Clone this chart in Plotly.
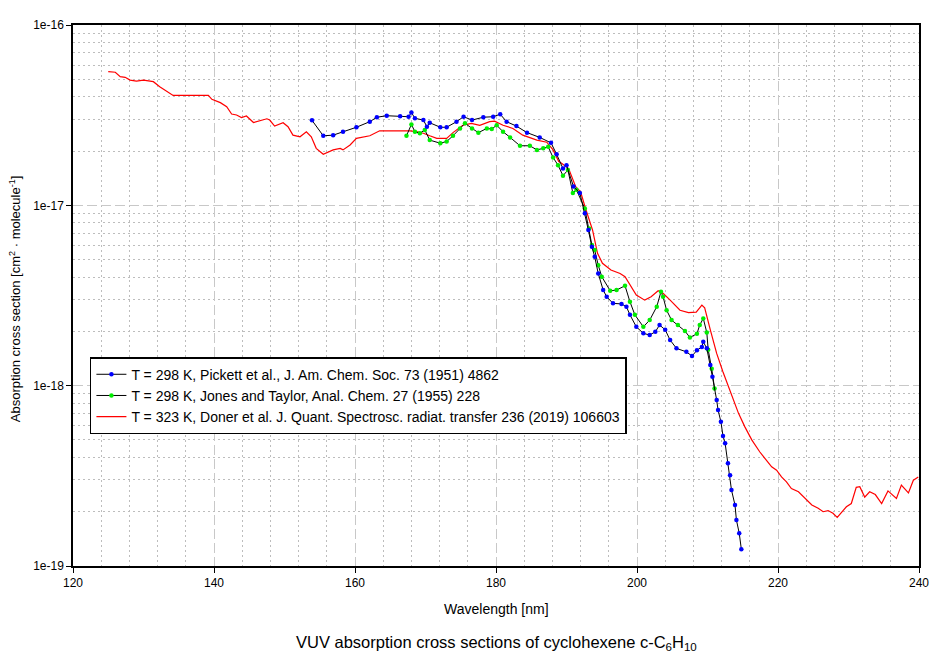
import plotly.graph_objects as go

################################## DATA ##################################
# T = 298 K, Pickett et al. (1951)
wl_pickett = [153.9, 155.5, 156.9, 158.3, 160.2, 162.1, 163.1, 164.5, 166.4, 167.6,
              168.0, 168.5, 169.7, 170.2, 170.6, 172.1, 173.0, 174.4, 175.4, 176.6,
              178.2, 179.6, 180.6, 181.5, 182.9, 184.4, 186.2, 187.8, 188.6, 189.5,
              190.0, 191.0, 191.9, 192.6, 193.1, 193.6, 194.0, 194.5, 195.2, 195.7,
              196.6, 197.8, 198.5, 199.0, 199.9, 200.9, 201.8, 202.6, 203.2, 204.0,
              204.7, 205.6, 207.0, 207.8, 208.5, 209.2, 209.4, 209.9, 210.4, 210.7,
              211.3, 211.5, 211.9, 212.2, 212.5, 212.9, 213.2, 213.4, 213.9, 214.1,
              214.5, 214.8]
xs_pickett = [2.96e-17, 2.43e-17, 2.45e-17, 2.56e-17, 2.71e-17, 2.91e-17, 3.08e-17, 3.14e-17, 3.12e-17, 3.10e-17,
              3.27e-17, 3.04e-17, 2.97e-17, 2.73e-17, 2.87e-17, 2.71e-17, 2.71e-17, 2.91e-17, 3.10e-17, 2.97e-17,
              3.08e-17, 3.10e-17, 3.20e-17, 2.91e-17, 2.75e-17, 2.53e-17, 2.38e-17, 2.22e-17, 1.92e-17, 1.60e-17,
              1.67e-17, 1.27e-17, 1.17e-17, 9.03e-18, 7.29e-18, 5.89e-18, 5.19e-18, 4.19e-18, 3.39e-18, 3.11e-18,
              2.86e-18, 2.84e-18, 2.74e-18, 2.47e-18, 2.12e-18, 1.95e-18, 1.91e-18, 1.99e-18, 2.17e-18, 2.04e-18,
              1.79e-18, 1.61e-18, 1.54e-18, 1.46e-18, 1.57e-18, 1.64e-18, 1.75e-18, 1.61e-18, 1.30e-18, 1.12e-18,
              8.32e-19, 7.32e-19, 6.31e-19, 5.26e-19, 4.79e-19, 3.71e-19, 3.19e-19, 2.64e-19, 2.18e-19, 1.80e-19,
              1.52e-19, 1.24e-19]

# T = 298 K, Jones and Taylor (1955)
wl_jones = [167.3, 168.0, 168.5, 169.2, 169.9, 170.6, 172.1, 173.0, 173.9, 174.9,
            175.6, 176.6, 177.5, 178.7, 179.4, 180.1, 181.0, 182.0, 183.4, 184.8,
            185.8, 186.7, 187.4, 188.1, 188.8, 189.5, 190.2, 190.9, 191.4, 192.6,
            193.2, 193.6, 194.0, 194.5, 195.0, 196.2, 197.1, 198.3, 199.0, 199.7,
            200.9, 201.8, 202.8, 203.4, 203.7, 204.2, 204.9, 205.8, 206.8, 207.5,
            208.5, 208.9, 209.4, 209.9, 210.1, 210.6, 211.0]
xs_jones = [2.43e-17, 2.81e-17, 2.56e-17, 2.51e-17, 2.62e-17, 2.30e-17, 2.21e-17, 2.26e-17, 2.43e-17, 2.67e-17,
            2.85e-17, 2.67e-17, 2.53e-17, 2.67e-17, 2.65e-17, 2.78e-17, 2.56e-17, 2.38e-17, 2.14e-17, 2.14e-17,
            2.03e-17, 2.07e-17, 2.11e-17, 1.84e-17, 1.67e-17, 1.46e-17, 1.57e-17, 1.17e-17, 1.22e-17, 9.6e-18,
            7.45e-18, 6.02e-18, 5.65e-18, 4.66e-18, 4.02e-18, 3.36e-18, 3.39e-18, 3.58e-18, 2.92e-18, 2.47e-18,
            2.12e-18, 2.31e-18, 2.74e-18, 3.32e-18, 3.11e-18, 2.62e-18, 2.31e-18, 2.17e-18, 2.01e-18, 1.85e-18,
            1.94e-18, 2.17e-18, 2.36e-18, 1.97e-18, 1.58e-18, 1.24e-18, 9.66e-19]

# T = 323 K, Doner et al. (2019)
wl_doner = [125.0, 126.0, 126.7, 127.4, 128.1, 129.0, 130.0, 131.4, 132.3, 133.8,
            134.2, 139.2, 139.7, 140.9, 141.8, 142.5, 143.2, 143.9, 144.6, 145.6,
            146.5, 147.5, 147.9, 148.6, 149.8, 150.5, 151.2, 152.2, 153.1, 153.8,
            154.5, 155.5, 156.9, 157.9, 158.3, 159.3, 160.2, 162.1, 163.5, 167.8,
            168.7, 169.7, 170.6, 171.6, 173.0, 173.9, 175.3, 176.5, 177.7, 179.1,
            179.8, 181.0, 182.4, 183.8, 185.8, 187.2, 188.1, 188.9, 189.3, 190.3,
            191.3, 192.0, 192.7, 193.7, 194.4, 195.1, 196.3, 197.6, 198.3, 199.0,
            199.9, 201.1, 202.0, 203.0, 203.7, 204.7, 206.1, 207.3, 208.4, 209.2,
            209.6, 210.4, 211.3, 212.2, 213.2, 214.4, 215.3, 216.3, 217.4, 218.4,
            219.1, 219.8, 220.5, 221.2, 221.9, 222.9, 223.8, 224.8, 225.7, 226.4,
            227.1, 227.8, 228.4, 229.0, 229.7, 230.4, 231.1, 231.6, 232.3, 233.0,
            233.8, 234.7, 235.6, 236.8, 237.5, 238.5, 239.2, 239.9]
xs_doner = [5.51e-17, 5.47e-17, 5.17e-17, 5.13e-17, 4.95e-17, 4.89e-17, 4.95e-17, 4.85e-17, 4.55e-17, 4.14e-17,
            4.07e-17, 4.07e-17, 3.87e-17, 3.71e-17, 3.52e-17, 3.21e-17, 3.17e-17, 3.07e-17, 3.13e-17, 2.88e-17,
            2.94e-17, 3.02e-17, 2.97e-17, 2.75e-17, 2.87e-17, 2.73e-17, 2.45e-17, 2.40e-17, 2.56e-17, 2.40e-17,
            2.07e-17, 1.92e-17, 2.03e-17, 2.07e-17, 2.03e-17, 2.16e-17, 2.35e-17, 2.43e-17, 2.59e-17, 2.59e-17,
            2.56e-17, 2.51e-17, 2.43e-17, 2.35e-17, 2.35e-17, 2.53e-17, 2.78e-17, 2.85e-17, 2.78e-17, 2.91e-17,
            2.93e-17, 2.78e-17, 2.67e-17, 2.45e-17, 2.30e-17, 2.24e-17, 2.03e-17, 1.75e-17, 1.71e-17, 1.60e-17,
            1.27e-17, 1.19e-17, 9.6e-18, 7.29e-18, 5.42e-18, 4.77e-18, 4.38e-18, 4.19e-18, 4.02e-18, 3.61e-18,
            3.18e-18, 2.98e-18, 3.11e-18, 3.36e-18, 3.25e-18, 2.98e-18, 2.62e-18, 2.54e-18, 2.56e-18, 2.80e-18,
            2.70e-18, 2.04e-18, 1.51e-18, 1.19e-18, 9.25e-19, 7.02e-19, 5.91e-19, 4.99e-19, 4.30e-19, 3.86e-19,
            3.55e-19, 3.40e-19, 3.12e-19, 2.93e-19, 2.69e-19, 2.58e-19, 2.37e-19, 2.18e-19, 2.09e-19, 2.00e-19,
            2.03e-19, 1.96e-19, 1.86e-19, 1.98e-19, 2.13e-19, 2.22e-19, 2.73e-19, 2.75e-19, 2.41e-19, 2.58e-19,
            2.49e-19, 2.22e-19, 2.61e-19, 2.37e-19, 2.81e-19, 2.54e-19, 2.99e-19, 3.12e-19]

labels = ['T = 298 K, Pickett et al., J. Am. Chem. Soc. 73 (1951) 4862',
          'T = 298 K, Jones and Taylor, Anal. Chem. 27 (1955) 228',
          'T = 323 K, Doner et al. J. Quant. Spectrosc. radiat. transfer 236 (2019) 106603']

y_major = [1e-19, 1e-18, 1e-17, 1e-16]
y_major_text = ['1e-19', '1e-18', '1e-17', '1e-16']
y_minor = [m * d for d in [1e-19, 1e-18, 1e-17] for m in range(2, 10)]

################################# FIGURE #################################
font = 'Liberation Sans, Arial, sans-serif'
fig = go.Figure()

fig.add_trace(go.Scatter(x=wl_doner, y=xs_doner, mode='lines', name=labels[2],
                         line=dict(color='#ff0000', width=1.2), legendrank=3))
fig.add_trace(go.Scatter(x=wl_jones, y=xs_jones, mode='lines+markers', name=labels[1],
                         line=dict(color='black', width=1),
                         marker=dict(color='#00ee00', size=4.5), legendrank=2))
fig.add_trace(go.Scatter(x=wl_pickett, y=xs_pickett, mode='lines+markers', name=labels[0],
                         line=dict(color='black', width=1),
                         marker=dict(color='#0000ff', size=4.5), legendrank=1))

axis_common = dict(showline=True, linecolor='black', linewidth=1.5, mirror=True,
                   ticks='outside', ticklen=5, tickcolor='black',
                   showgrid=True, gridcolor='#c8c8c8', gridwidth=1, griddash='10px,4px',
                   zeroline=False, tickfont=dict(family=font, size=12, color='black'))

fig.update_xaxes(range=[120, 240], tick0=120, dtick=20,
                 minor=dict(dtick=4, showgrid=True, gridcolor='#bdbdbd', griddash='2px,3px',
                            ticks=''),
                 **axis_common)
fig.update_yaxes(type='log', range=[-19, -16], tickmode='array',
                 tickvals=y_major, ticktext=y_major_text,
                 minor=dict(tickmode='array', tickvals=y_minor, showgrid=True,
                            gridcolor='#bdbdbd', griddash='2px,3px', ticks=''),
                 **axis_common)

# axis titles and chart title (placed to match the reference positions)
fig.add_annotation(text='Wavelength [nm]', xref='paper', yref='paper', x=0.5, y=-0.0795,
                   xanchor='center', yanchor='middle', showarrow=False,
                   font=dict(family=font, size=14, color='black'))
fig.add_annotation(text='Absorption cross section [cm<sup>2</sup> · molecule<sup>-1</sup>]',
                   xref='paper', yref='paper', x=-0.0686, y=0.495, textangle=-90,
                   xanchor='center', yanchor='middle', showarrow=False,
                   font=dict(family=font, size=13, color='black'))
fig.add_annotation(text='VUV absorption cross sections of cyclohexene c-C<sub>6</sub>H<sub>10</sub>',
                   xref='paper', yref='paper', x=0.5, y=-0.142,
                   xanchor='center', yanchor='middle', showarrow=False,
                   font=dict(family=font, size=16.5, color='black'))

fig.update_layout(width=944, height=659,
                  margin=dict(l=73, r=25, t=25, b=93),
                  paper_bgcolor='white', plot_bgcolor='white',
                  font=dict(family=font, size=12, color='black'),
                  showlegend=True,
                  legend=dict(x=0.02, y=0.386, xanchor='left', yanchor='top',
                              bgcolor='white', bordercolor='black', borderwidth=1.5,
                              font=dict(family=font, size=14, color='black'),
                              tracegroupgap=0, itemwidth=30))

# drop the default 8px page margin so the figure sits at the window's corner
fig.write_html('out.html', config={'displayModeBar': False},
               post_script="document.body.style.margin='0';")
